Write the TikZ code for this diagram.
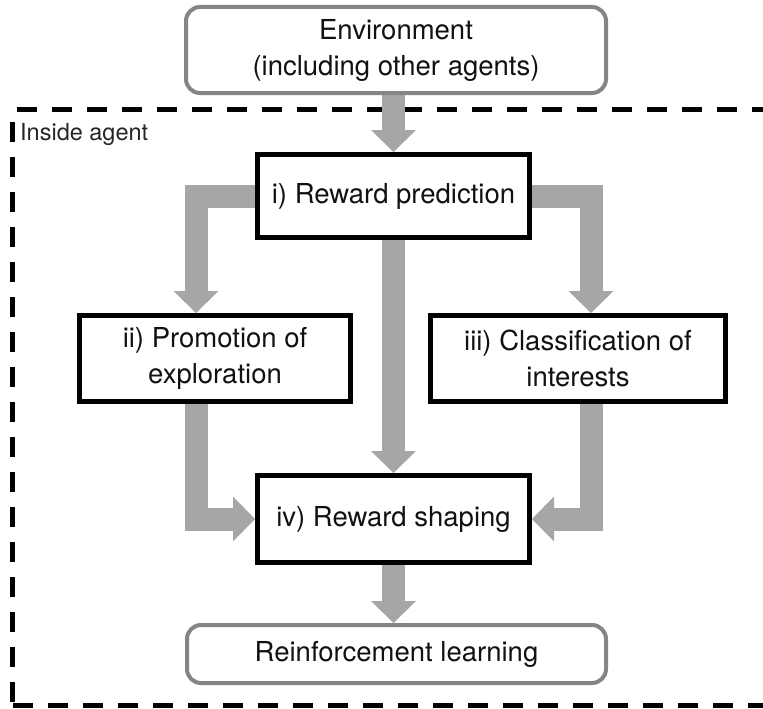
\documentclass[tikz,border=0pt]{standalone}
\usepackage{fontspec}
\setmainfont{TeX Gyre Heros}
\usetikzlibrary{arrows.meta,backgrounds}
\definecolor{agray}{HTML}{A6A6A6}
\definecolor{bgray}{HTML}{858585}
\definecolor{txtc}{HTML}{111111}
\begin{document}
\begin{tikzpicture}[x=1pt,y=-1pt,
  txt/.style={font=\fontsize{27.5}{36}\selectfont, align=center, inner sep=0pt, text=txtc},
  blackbox/.style={txt, draw=black, line width=5pt, fill=white},
  graybox/.style={txt, draw=bgray, line width=4pt, rounded corners=14pt, fill=white},
  fat/.style={draw=agray, line width=23pt, -{Triangle[width=45pt,length=22pt,line width=0pt]}},
  dashline/.style={draw=black, line width=5pt, dash pattern=on 20pt off 15pt}]
\useasboundingbox (0,0) rectangle (763,709);

% nodes
\node[graybox, minimum width=420pt, minimum height=86pt] (env) at (396,50) {Environment\\(including other agents)};
\node[blackbox, minimum width=272pt, minimum height=83pt] (i) at (393.5,196) {i) Reward prediction};
\node[blackbox, minimum width=271pt, minimum height=86pt] (ii) at (215,358.5) {ii) Promotion of\\exploration};
\node[blackbox, minimum width=295pt, minimum height=86pt] (iii) at (578,358.5) {iii) Classification of\\interests};
\node[blackbox, minimum width=272pt, minimum height=87pt] (iv) at (393.5,519) {iv) Reward shaping};
\node[graybox, minimum width=419pt, minimum height=58pt] (rl) at (396.5,654) {Reinforcement learning};
\node[font=\fontsize{23.5}{28}\selectfont, anchor=base west, inner sep=0pt, text=black!85] (ins) at (20,140) {Inside agent};

\coordinate (lcol) at (196,0);
\coordinate (rcol) at (591,0);

\begin{pgfonlayer}{background}
  % frame of the agent
  \draw[dashline] (17,109) -- (763,109);
  \draw[dashline] (12.5,122) -- (12.5,705);
  \draw[dashline] (13,705.5) -- (763,705.5);
  % connectors
  \draw[fat] (env.south -| i.north) -- (i.north);
  \draw[fat] (i.west) -| (lcol |- ii.north);
  \draw[fat] (i.east) -| (rcol |- iii.north);
  \draw[fat] (i.south) -- (iv.north);
  \draw[fat] (lcol |- ii.south) |- (iv.west);
  \draw[fat] (rcol |- iii.south) |- (iv.east);
  \draw[fat] (iv.south) -- (iv.south |- rl.north);
\end{pgfonlayer}
\end{tikzpicture}
\end{document}
